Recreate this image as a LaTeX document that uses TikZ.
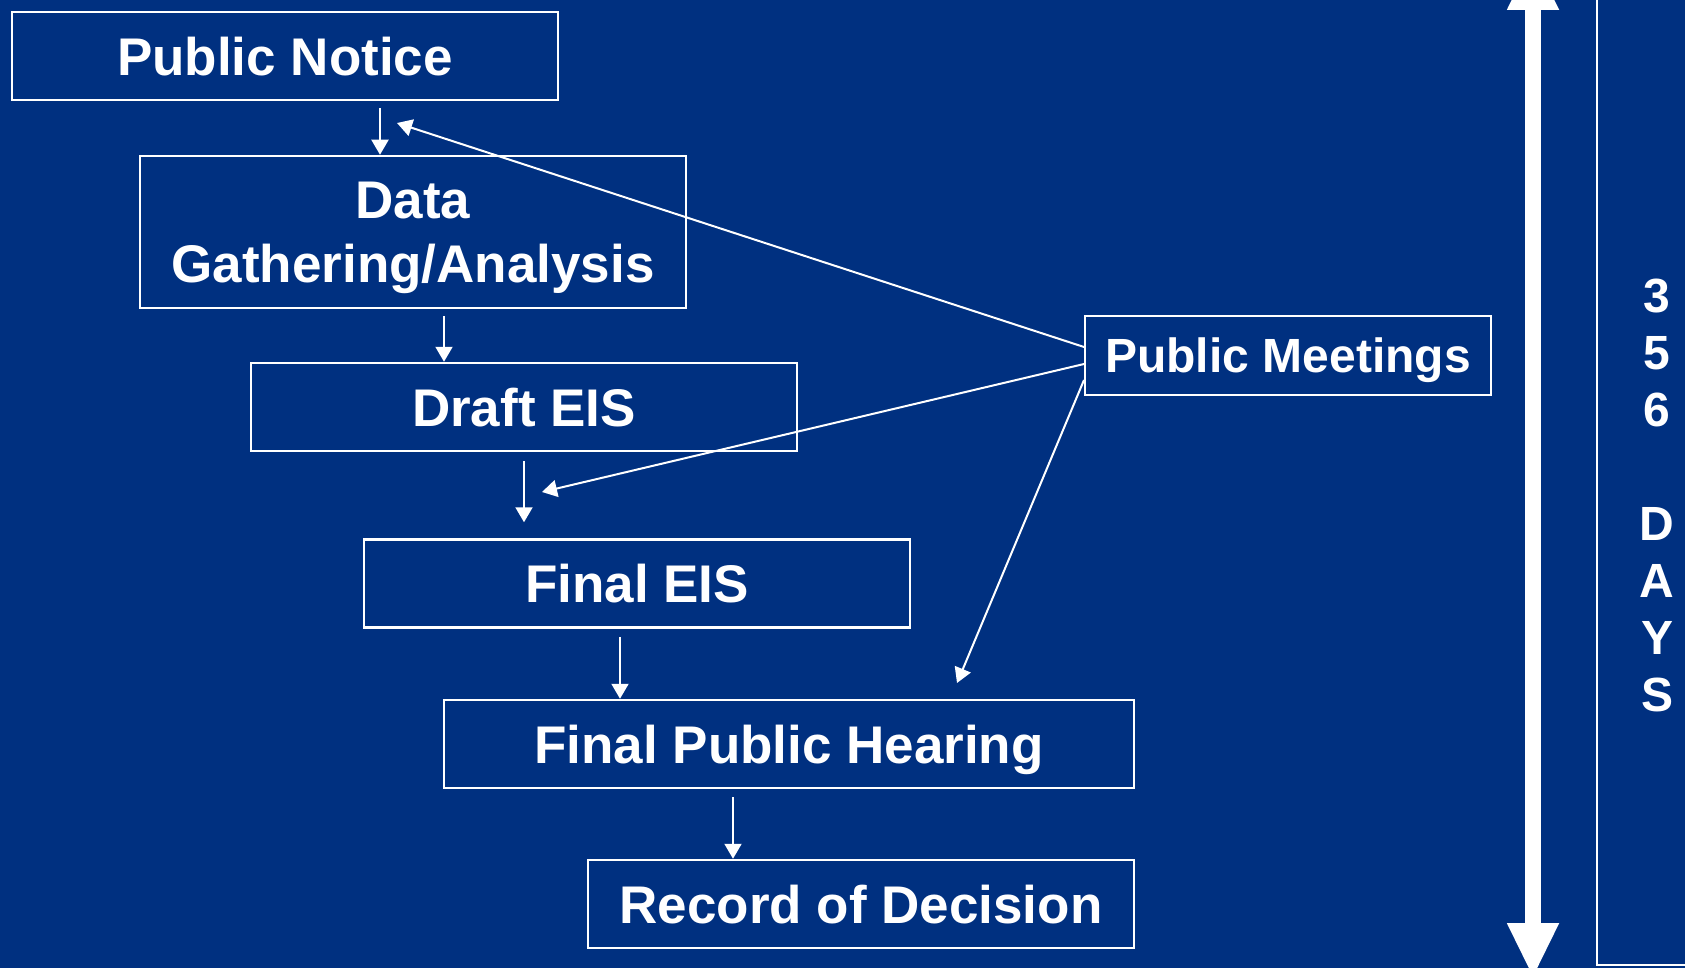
\documentclass[tikz,border=0pt]{standalone}
\usepackage{fontspec}
\setmainfont{Liberation Sans}
\usetikzlibrary{arrows.meta, positioning}
\definecolor{navy}{RGB}{0,48,128}

\begin{document}
\begin{tikzpicture}[x=1pt, y=-1pt, line cap=butt,
  box/.style={draw=white, line width=2.5pt, text=white, inner sep=0pt, text depth=0pt, minimum width=546, minimum height=88, align=center, font=\fontsize{53}{64}\selectfont\bfseries},
  flow/.style={white, line width=2pt, -{Triangle[width=17pt,length=15pt]}},
  span/.style={white, line width=16pt, {Triangle[width=48pt,length=55pt]}-{Triangle[width=48pt,length=55pt]}}];

\clip (0,0) rectangle (1685,968);
\fill[navy] (0,0) rectangle (1685,968);

% steps
\node[box] (pn) at (285,56) {Public Notice};
\node[box, minimum height=152] (dga) at (413,232) {Data\\Gathering/Analysis};
\node[box] (deis) at (524,407) {Draft EIS};
\node[box] (feis) at (637,583.5) {Final EIS};
\node[box, minimum width=690] (fph) at (789,744) {Final Public Hearing};
\node[box] (rod) at (861,904) {Record of Decision};
\node[box, line width=2pt, minimum width=406, minimum height=79, font=\fontsize{48}{58}\selectfont\bfseries] (pm) at (1288,355.5) {Public Meetings};

\draw[flow, shorten <=7pt] (380,0 |- pn.south) -- (380,0 |- dga.north);
\draw[flow, shorten <=7pt] (444,0 |- dga.south) -- (444,0 |- deis.north);
\draw[flow, shorten <=9pt, shorten >=16pt] (524,0 |- deis.south) -- (524,0 |- feis.north);
\draw[flow, shorten <=8pt] (620,0 |- feis.south) -- (620,0 |- fph.north);
\draw[flow, shorten <=8pt] (733,0 |- fph.south) -- (733,0 |- rod.north);

% meetings feed back
\coordinate (tpn) at (397,123);
\coordinate (tdeis) at (542,492);
\coordinate (tfph) at (957,683);
\draw[flow] ([yshift=8.5pt]pm.west) -- (tpn);
\draw[flow] ([yshift=-8.5pt]pm.west) -- (tdeis);
\draw[flow] ([yshift=-24.5pt]pm.west) -- (tfph);

% time span
\coordinate (start) at (1533,-45);
\coordinate (end) at (1533,978);
\draw[span] (start) -- (end);
\draw[white, line width=2.5pt] (1597,-10) -- (1597,965) -- (1700,965);
\node[text=white, align=center, font=\fontsize{48}{57}\selectfont\bfseries] (days) at (1657,495) {3\\5\\6\\[57pt]D\\A\\Y\\S};
\end{tikzpicture}
\end{document}
